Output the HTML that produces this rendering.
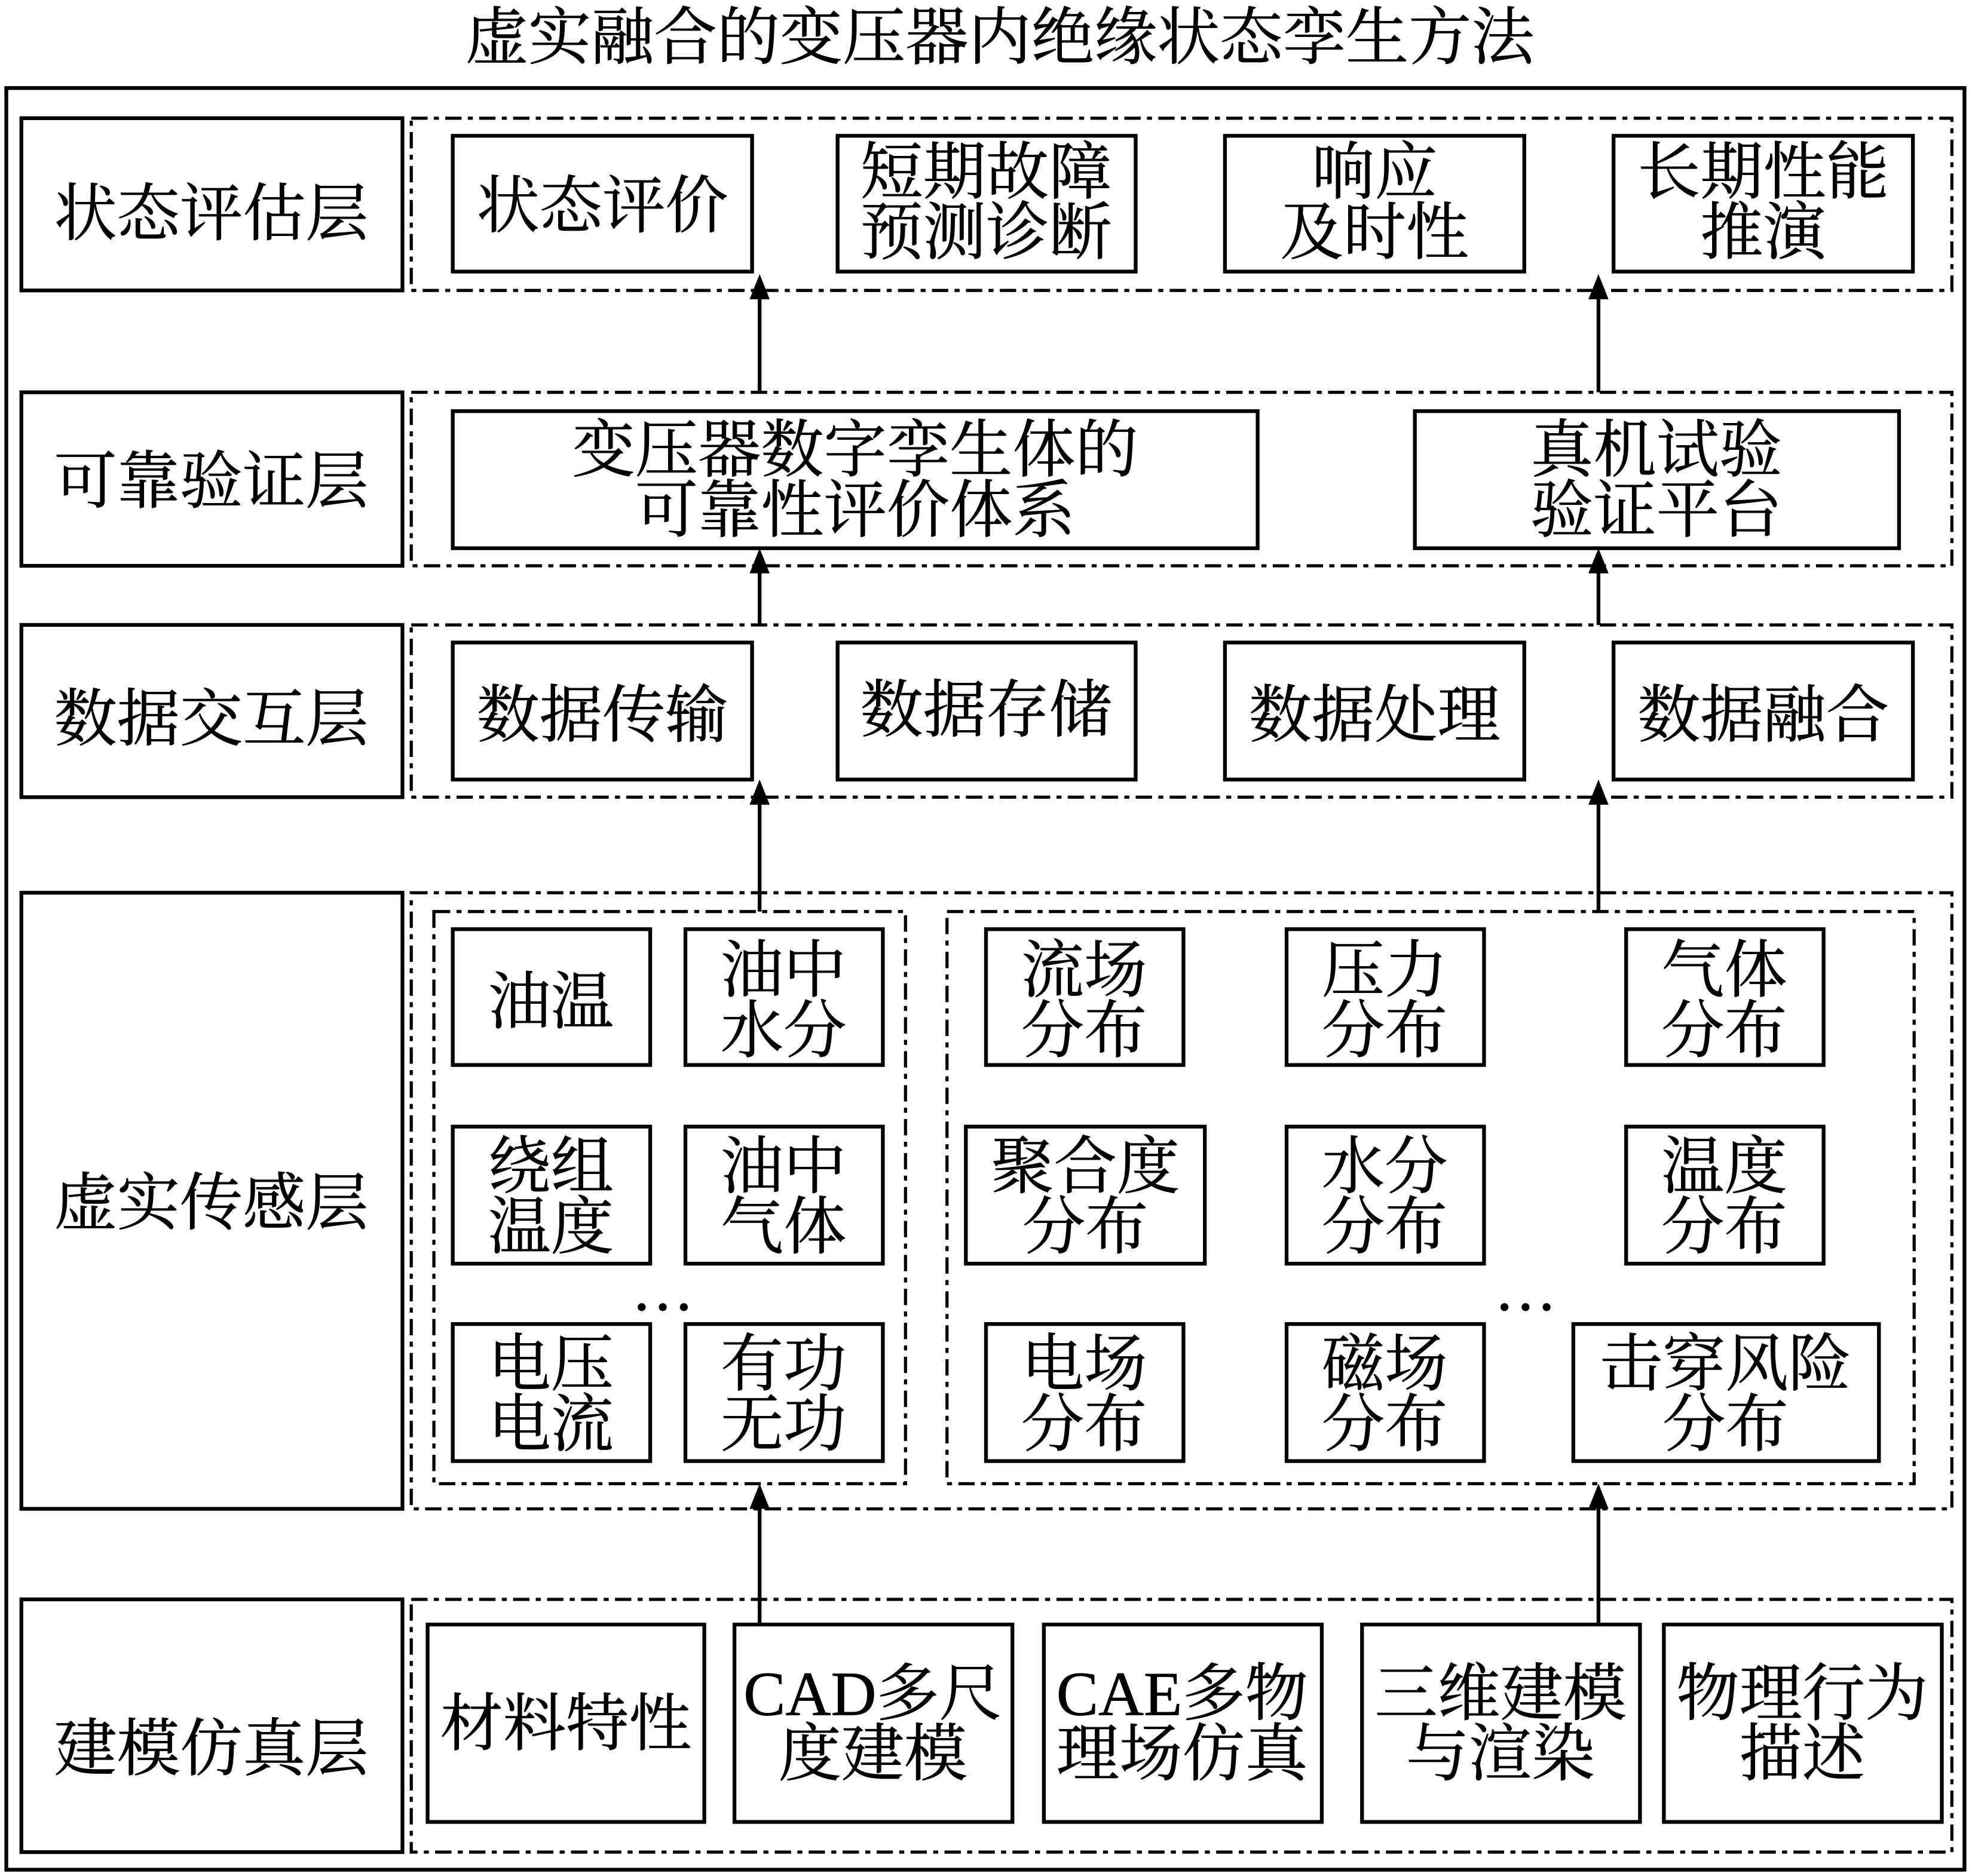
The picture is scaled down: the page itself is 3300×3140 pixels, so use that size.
<!DOCTYPE html>
<html><head><meta charset="utf-8"><style>
html,body{margin:0;padding:0;background:#fff;}
svg{display:block}
text{font-family:"Liberation Serif","Noto Serif CJK SC",serif;fill:#000;text-anchor:middle;dominant-baseline:central;stroke:#000;stroke-width:0.4}
.b{fill:none;stroke:#000;stroke-width:3}
.d{fill:none;stroke:#000;stroke-width:2.5;stroke-dasharray:13 5 4 5}
.a{stroke:#000;stroke-width:3}
</style></head><body>
<svg width="3300" height="3140" viewBox="0 0 1568 1492" preserveAspectRatio="none" xmlns="http://www.w3.org/2000/svg">
<text x="795" y="30" font-size="50">虚实融合的变压器内绝缘状态孪生方法</text>
<rect class="b" x="5" y="70" width="1557" height="1417"/>
<g font-size="50">
<rect class="b" x="17" y="94" width="303" height="137"/><text x="168" y="170">状态评估层</text>
<rect class="b" x="17" y="312" width="303" height="138"/><text x="168" y="383">可靠验证层</text>
<rect class="b" x="17" y="497" width="303" height="137"/><text x="168" y="572">数据交互层</text>
<rect class="b" x="17" y="710" width="303" height="490"/><text x="168" y="957">虚实传感层</text>
<rect class="b" x="17" y="1272" width="303" height="201"/><text x="168" y="1391">建模仿真层</text>
</g>
<rect class="d" x="327" y="94" width="1225" height="137"/>
<rect class="d" x="327" y="312" width="1225" height="138"/>
<rect class="d" x="327" y="497" width="1225" height="137"/>
<rect class="d" x="327" y="710" width="1225" height="490"/>
<rect class="d" x="327" y="1272" width="1225" height="201"/>
<rect class="d" x="345" y="725" width="375" height="455"/>
<rect class="d" x="753" y="725" width="769" height="455"/>
<g font-size="50">
<rect class="b" x="360" y="108" width="238" height="108"/><text x="479" y="164">状态评价</text>
<rect class="b" x="666" y="108" width="237" height="108"/><text x="784" y="137">短期故障</text><text x="784" y="185">预测诊断</text>
<rect class="b" x="974" y="108" width="238" height="108"/><text x="1093" y="137">响应</text><text x="1093" y="185">及时性</text>
<rect class="b" x="1283" y="108" width="238" height="108"/><text x="1402" y="137">长期性能</text><text x="1402" y="185">推演</text>
<rect class="b" x="360" y="327" width="640" height="109"/><text x="680" y="358">变压器数字孪生体的</text><text x="680" y="406">可靠性评价体系</text>
<rect class="b" x="1125" y="327" width="385" height="109"/><text x="1317" y="358">真机试验</text><text x="1317" y="406">验证平台</text>
<rect class="b" x="360" y="511" width="238" height="109"/><text x="479" y="569">数据传输</text>
<rect class="b" x="666" y="511" width="237" height="109"/><text x="784" y="565">数据存储</text>
<rect class="b" x="974" y="511" width="238" height="109"/><text x="1093" y="569">数据处理</text>
<rect class="b" x="1283" y="511" width="238" height="109"/><text x="1402" y="569">数据融合</text>
<rect class="b" x="360" y="739" width="157" height="108"/><text x="438" y="797">油温</text>
<rect class="b" x="545" y="739" width="157" height="108"/><text x="623" y="772">油中</text><text x="623" y="820">水分</text>
<rect class="b" x="360" y="896" width="157" height="109"/><text x="438" y="928">绕组</text><text x="438" y="976">温度</text>
<rect class="b" x="545" y="896" width="157" height="109"/><text x="623" y="928">油中</text><text x="623" y="976">气体</text>
<rect class="b" x="360" y="1053" width="157" height="109"/><text x="438" y="1085">电压</text><text x="438" y="1133">电流</text>
<rect class="b" x="545" y="1053" width="157" height="109"/><text x="623" y="1085">有功</text><text x="623" y="1133">无功</text>
<rect class="b" x="784" y="739" width="157" height="108"/><text x="862" y="772">流场</text><text x="862" y="820">分布</text>
<rect class="b" x="1023" y="739" width="157" height="108"/><text x="1101" y="772">压力</text><text x="1101" y="820">分布</text>
<rect class="b" x="1293" y="739" width="157" height="108"/><text x="1371" y="772">气体</text><text x="1371" y="820">分布</text>
<rect class="b" x="768" y="896" width="190" height="109"/><text x="863" y="928">聚合度</text><text x="863" y="976">分布</text>
<rect class="b" x="1023" y="896" width="157" height="109"/><text x="1101" y="928">水分</text><text x="1101" y="976">分布</text>
<rect class="b" x="1293" y="896" width="157" height="109"/><text x="1371" y="928">温度</text><text x="1371" y="976">分布</text>
<rect class="b" x="784" y="1053" width="157" height="109"/><text x="862" y="1085">电场</text><text x="862" y="1133">分布</text>
<rect class="b" x="1023" y="1053" width="157" height="109"/><text x="1101" y="1085">磁场</text><text x="1101" y="1133">分布</text>
<rect class="b" x="1251" y="1053" width="243" height="109"/><text x="1372" y="1085">击穿风险</text><text x="1372" y="1133">分布</text>
<text x="527" y="1025">…</text><text x="1213" y="1025">…</text>
<rect class="b" x="340" y="1292" width="220" height="157"/><text x="450" y="1371">材料特性</text>
<rect class="b" x="584" y="1292" width="221" height="157"/><text x="694" y="1347">CAD多尺</text><text x="694" y="1395">度建模</text>
<rect class="b" x="830" y="1292" width="221" height="157"/><text x="940" y="1347">CAE多物</text><text x="940" y="1395">理场仿真</text>
<rect class="b" x="1083" y="1292" width="221" height="157"/><text x="1193" y="1347">三维建模</text><text x="1193" y="1395">与渲染</text>
<rect class="b" x="1323" y="1292" width="221" height="157"/><text x="1433" y="1347">物理行为</text><text x="1433" y="1395">描述</text>
</g>
<g>
<line class="a" x1="604" y1="312" x2="604" y2="235"/><polygon points="604,218 596,238 612,238"/>
<line class="a" x1="1271" y1="312" x2="1271" y2="235"/><polygon points="1271,218 1263,238 1279,238"/>
<line class="a" x1="604" y1="497" x2="604" y2="452"/><polygon points="604,436 596,456 612,456"/>
<line class="a" x1="1271" y1="497" x2="1271" y2="452"/><polygon points="1271,436 1263,456 1279,456"/>
<line class="a" x1="604" y1="725" x2="604" y2="636"/><polygon points="604,620 596,640 612,640"/>
<line class="a" x1="1271" y1="725" x2="1271" y2="636"/><polygon points="1271,620 1263,640 1279,640"/>
<line class="a" x1="604" y1="1292" x2="604" y2="1196"/><polygon points="604,1180 596,1200 612,1200"/>
<line class="a" x1="1271" y1="1292" x2="1271" y2="1196"/><polygon points="1271,1180 1263,1200 1279,1200"/>
</g>
</svg>
</body></html>
